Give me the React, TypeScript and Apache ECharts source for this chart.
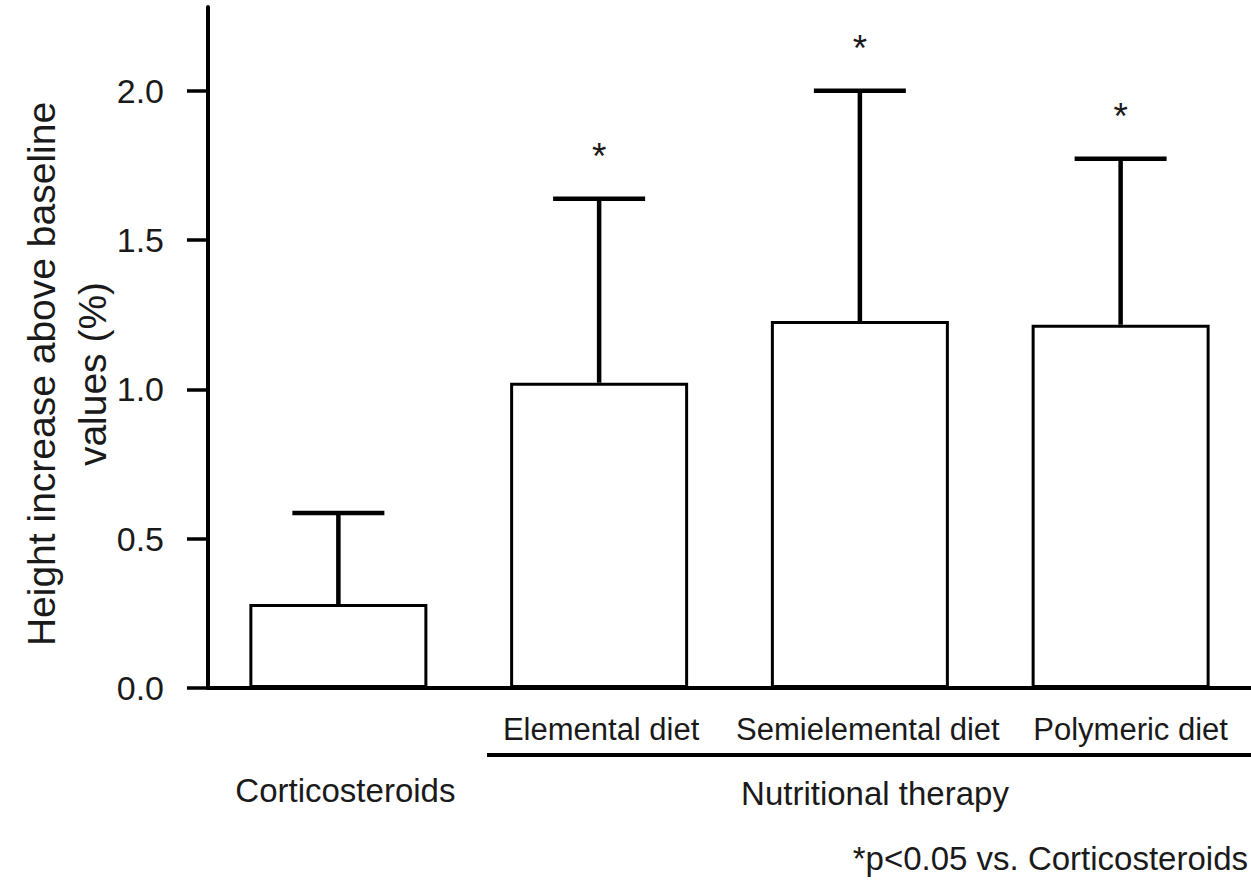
import React, { useEffect, useRef } from "react";
import * as echarts from "echarts";

// Group labels along the x axis
const categories = ["Corticosteroids", "Elemental diet", "Semielemental diet", "Polymeric diet"];
// Mean height increase above baseline (%)
const means = [0.281, 1.022, 1.229, 1.216];
// Mean + SD (top of each error bar)
const upper = [0.586, 1.638, 2.0, 1.772];
// Significance markers vs. corticosteroids
const significance = ["", "*", "*", "*"];
// Y axis tick values
const yTicks = [0, 0.5, 1.0, 1.5, 2.0];

const FONT = "'Liberation Sans', Arial, Helvetica, sans-serif";
const INK = "#1a1a1a";

export default function App() {
  const ref = useRef<HTMLDivElement>(null);

  useEffect(() => {
    if (!ref.current) return;
    const chart = echarts.init(ref.current, undefined, { renderer: "svg" });

    const errorData = categories.map((_, i) => [i, means[i], upper[i]]);
    const labelStyles = ["c0", "c1", "c2", "c3"];

    chart.setOption({
      animation: false,
      backgroundColor: "#ffffff",
      grid: { left: 208, top: 7, width: 1051, bottom: 193, containLabel: false },
      xAxis: {
        type: "category",
        data: categories,
        axisTick: { show: false },
        axisLine: { lineStyle: { color: "#000", width: 4 } },
        axisLabel: {
          interval: 0,
          margin: 26,
          formatter: (v: string, i: number) => `{${labelStyles[i]}|${v}}`,
          rich: {
            c0: { fontFamily: FONT, fontSize: 33, color: INK, padding: [60, 0, 0, 14] },
            c1: { fontFamily: FONT, fontSize: 31, color: INK, padding: [0, 0, 0, 4] },
            c2: { fontFamily: FONT, fontSize: 31, color: INK, padding: [0, 0, 0, 16] },
            c3: { fontFamily: FONT, fontSize: 31, color: INK, padding: [0, 0, 0, 20] },
          },
        },
      },
      yAxis: {
        type: "value",
        min: 0,
        max: 2.28,
        interval: 0.5,
        splitLine: { show: false },
        axisLine: { show: true, lineStyle: { color: "#000", width: 4 } },
        axisTick: {
          show: true,
          length: 21,
          customValues: yTicks,
          lineStyle: { color: "#000", width: 3.5 },
        },
        axisLabel: {
          customValues: yTicks,
          margin: 44,
          fontFamily: FONT,
          fontSize: 34,
          color: INK,
          formatter: (v: number) => v.toFixed(1),
        },
      },
      series: [
        {
          type: "bar",
          data: means,
          barWidth: 178,
          itemStyle: { color: "#ffffff", borderColor: "#000", borderWidth: 3 },
          z: 2,
        },
        {
          type: "custom",
          data: errorData,
          z: 3,
          renderItem: (params: any, api: any) => {
            const x = api.value(0);
            const lo = api.coord([x, api.value(1)]);
            const hi = api.coord([x, api.value(2)]);
            const half = 46;
            const children: any[] = [
              {
                type: "line",
                shape: { x1: lo[0], y1: lo[1], x2: hi[0], y2: hi[1] },
                style: { stroke: "#000", lineWidth: 4.5 },
              },
              {
                type: "line",
                shape: { x1: hi[0] - half, y1: hi[1], x2: hi[0] + half, y2: hi[1] },
                style: { stroke: "#000", lineWidth: 4.5 },
              },
            ];
            const mark = significance[params.dataIndex];
            if (mark) {
              children.push({
                type: "text",
                x: hi[0],
                y: hi[1] - 42,
                style: {
                  text: mark,
                  fontFamily: FONT,
                  fontSize: 37,
                  fill: INK,
                  align: "center",
                  verticalAlign: "middle",
                },
              });
            }
            return { type: "group", children };
          },
        },
      ],
      graphic: [
        {
          type: "text",
          x: 67,
          y: 374,
          rotation: Math.PI / 2,
          style: {
            text: "Height increase above baseline\nvalues (%)",
            fontFamily: FONT,
            fontSize: 39,
            lineHeight: 51,
            fill: INK,
            align: "center",
            verticalAlign: "middle",
          },
        },
        {
          type: "line",
          shape: { x1: 487, y1: 755, x2: 1251, y2: 755 },
          style: { stroke: "#000", lineWidth: 4 },
        },
        {
          type: "text",
          x: 875,
          y: 793,
          style: {
            text: "Nutritional therapy",
            fontFamily: FONT,
            fontSize: 33,
            fill: INK,
            align: "center",
            verticalAlign: "middle",
          },
        },
        {
          type: "text",
          x: 1248,
          y: 858,
          style: {
            text: "*p<0.05 vs. Corticosteroids",
            fontFamily: FONT,
            fontSize: 33,
            fill: INK,
            align: "right",
            verticalAlign: "middle",
          },
        },
      ],
    });

    return () => chart.dispose();
  }, []);

  return (
    <div
      ref={ref}
      style={{ position: "absolute", left: 0, top: 0, width: 1251, height: 881, background: "#fff" }}
    />
  );
}
